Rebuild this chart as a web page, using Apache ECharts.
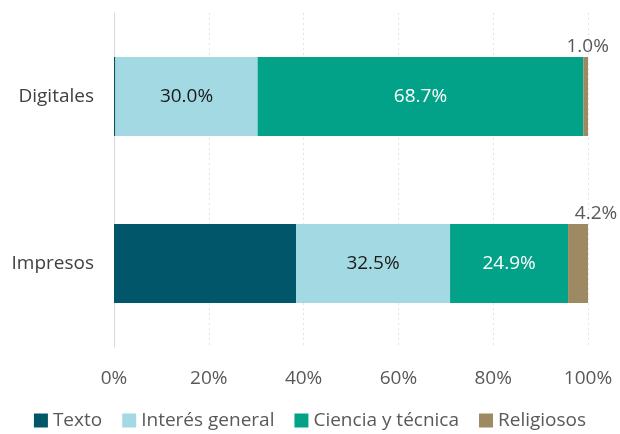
<!DOCTYPE html>
<html lang="es">
<head>
    <meta charset="utf-8">
    <title>Libros por tipo</title>
    <script src="https://cdn.jsdelivr.net/npm/echarts@6/dist/echarts.min.js"></script>
    <style>
        html, body { margin: 0; padding: 0; background: #fff; }
        #chart { width: 620px; height: 434px; }
    </style>
</head>
<body>
<div id="chart"></div>
<script type="text/javascript">
    // categorias (de abajo hacia arriba)
    var categorias = ['Impresos', 'Digitales'];
    var series = ['Texto', 'Interés general', 'Ciencia y técnica', 'Religiosos'];
    var texto = [38.4, 0.3];
    var interes = [32.5, 30.0];
    var ciencia = [24.9, 68.7];
    var religiosos = [4.2, 1.0];
    var ticks = [0, 20, 40, 60, 80, 100];

    var colores = ['#02566a', '#a3d9e3', '#02a289', '#9d8a63'];
    var fuente = '"Open Sans", "Noto Sans", sans-serif';
    var tam = 19;

    var dom = document.getElementById('chart');
    var myChart = echarts.init(dom);

    function pct(p) { return p.value.toFixed(1) + '%'; }

    var option = {
        animation: false,
        textStyle: { fontFamily: fuente },
        grid: { left: 114, right: 32, top: 13, bottom: 87 },
        legend: {
            data: series,
            top: 411,
            left: 'center',
            padding: 0,
            icon: 'rect',
            itemWidth: 14,
            itemHeight: 14,
            itemGap: 20,
            textStyle: { fontFamily: fuente, fontSize: tam, color: '#595959' }
        },
        xAxis: {
            type: 'value',
            min: ticks[0],
            max: ticks[ticks.length - 1],
            interval: 20,
            axisLine: { show: false },
            axisTick: { show: false },
            axisLabel: {
                formatter: '{value}%',
                fontFamily: fuente,
                fontSize: tam,
                color: '#595959',
                margin: 22
            },
            splitLine: { lineStyle: { color: '#e3e3e3', type: [2, 3] } }
        },
        yAxis: {
            type: 'category',
            data: categorias,
            axisTick: { show: false },
            axisLine: { lineStyle: { color: '#d9d9d9' } },
            axisLabel: {
                fontFamily: fuente,
                fontSize: tam,
                color: '#404040',
                margin: 20
            }
        },
        series: [
            {
                name: series[0], type: 'bar', stack: 'total', barWidth: 79,
                itemStyle: { color: colores[0] },
                data: texto
            },
            {
                name: series[1], type: 'bar', stack: 'total',
                itemStyle: { color: colores[1] },
                label: { show: true, formatter: pct, color: '#1a1a1a', fontSize: tam, fontFamily: fuente },
                data: interes
            },
            {
                name: series[2], type: 'bar', stack: 'total',
                itemStyle: { color: colores[2] },
                label: { show: true, formatter: pct, color: '#ffffff', fontSize: tam, fontFamily: fuente },
                data: ciencia
            },
            {
                name: series[3], type: 'bar', stack: 'total',
                itemStyle: { color: colores[3] },
                label: {
                    show: true, position: 'top', distance: 1,
                    formatter: pct, color: '#595959', fontSize: tam, fontFamily: fuente
                },
                data: religiosos.map(function (v, i) {
                    return { value: v, label: { offset: [i === 0 ? 18 : 2, 0] } };
                })
            }
        ]
    };

    myChart.setOption(option);
</script>
</body>
</html>
